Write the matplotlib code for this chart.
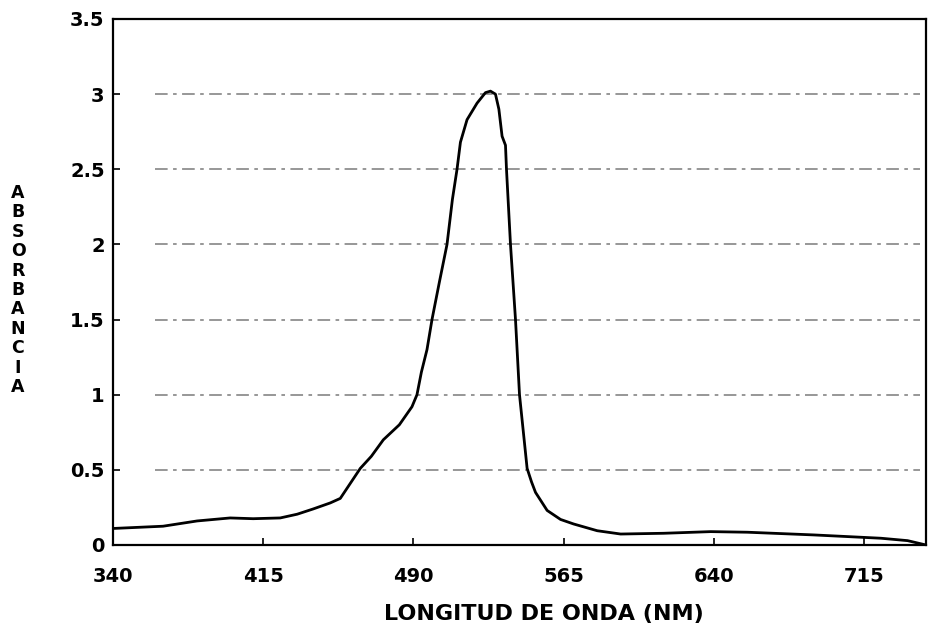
import numpy as np
import matplotlib
matplotlib.use('Agg')
import matplotlib.pyplot as plt

plt.rcParams['font.family'] = ['DejaVu Sans']

# spectrum (wavelength nm, absorbance)
wavelength = [340, 365, 382, 398.5, 410, 423.5, 432, 440, 448.5, 453.5,
              458.5, 463.5, 469, 475, 483, 489.3, 491.8, 494, 496.8, 499.3,
              503, 506.8, 509.5, 511.8, 513.5, 516.8, 521.8, 526, 528.5, 531,
              532.7, 534.3, 536, 536.5, 538.5, 541, 543, 546.8, 549, 551,
              556.8, 563.5, 570, 581.8, 593.5, 615, 638.5, 656.8, 690, 723.5,
              736.8, 746]
absorbance = [0.11, 0.125, 0.16, 0.18, 0.175, 0.18, 0.205, 0.24, 0.28, 0.31,
              0.41, 0.51, 0.59, 0.70, 0.80, 0.92, 1.0, 1.15, 1.3, 1.5,
              1.75, 2.0, 2.3, 2.5, 2.68, 2.83, 2.94, 3.01, 3.02, 3.0,
              2.9, 2.72, 2.66, 2.5, 2.0, 1.5, 1.0, 0.51, 0.42, 0.35,
              0.23, 0.17, 0.14, 0.095, 0.073, 0.078, 0.089, 0.085, 0.067, 0.045,
              0.029, 0.0]

x_ticks = [340, 415, 490, 565, 640, 715]
y_ticks = [0, 0.5, 1, 1.5, 2, 2.5, 3, 3.5]
y_tick_labels = ['0', '0.5', '1', '1.5', '2', '2.5', '3', '3.5']
grid_levels = [0.5, 1, 1.5, 2, 2.5, 3]

fig = plt.figure(figsize=(9.32, 6.3), dpi=100)
ax = fig.add_axes([113 / 932, 85 / 630, 813 / 932, 526 / 630])

# dashed horizontal guide lines
ax.hlines(grid_levels, 361, 743, colors='#8f8f8f', linewidth=1.3,
          linestyles=(0, (7, 3, 2, 3)), zorder=1)

ax.plot(wavelength, absorbance, color='black', linewidth=2.0, zorder=3)

ax.set_xlim(340, 746)
ax.set_ylim(0, 3.5)
ax.set_xticks(x_ticks)
ax.set_xticklabels([str(t) for t in x_ticks], fontsize=14, fontweight='bold')
ax.set_yticks(y_ticks)
ax.set_yticklabels(y_tick_labels, fontsize=14, fontweight='bold')
ax.tick_params(axis='both', direction='in', length=5, width=1.2)
ax.tick_params(axis='x', pad=16)
ax.tick_params(axis='y', pad=6)

for s in ax.spines.values():
    s.set_linewidth(1.6)

ax.text(0.53, -0.112, 'LONGITUD DE ONDA (NM)', transform=ax.transAxes,
        ha='center', va='top', fontsize=16, fontweight='bold')

fig.text(18 / 932, 1 - 290 / 630, '\n'.join('ABSORBANCIA'), ha='center',
         va='center', fontsize=12.5, fontweight='bold', linespacing=1.1)

fig.savefig('out.png', dpi=100)
